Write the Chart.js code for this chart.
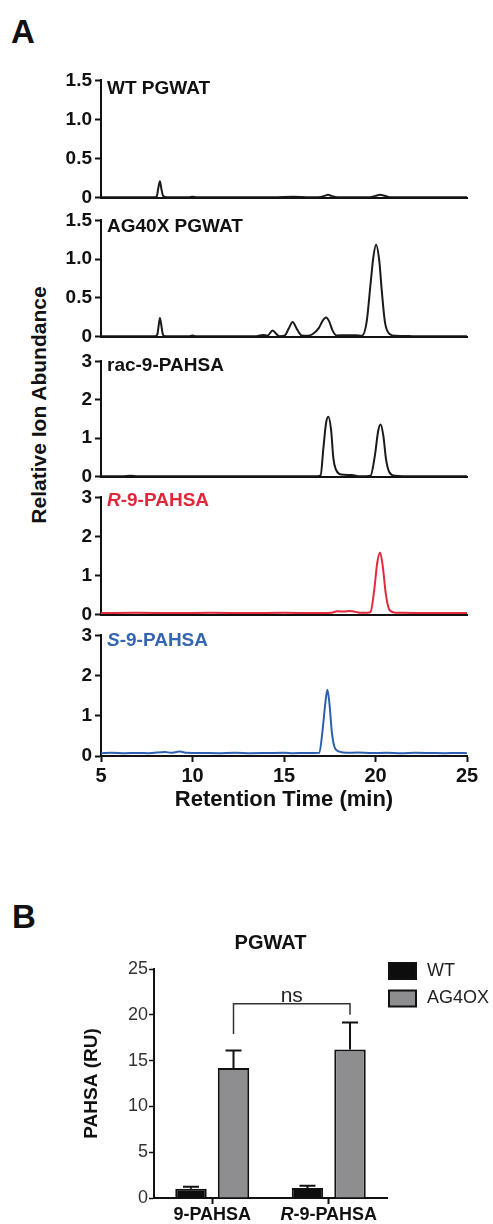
<!DOCTYPE html>
<html lang="en">
<head>
<meta charset="utf-8">
<title>PAHSA in PGWAT</title>
<script src="https://cdn.jsdelivr.net/npm/chart.js@4.4.1/dist/chart.umd.min.js"></script>
<style>
  html, body { margin: 0; padding: 0; background: #fff; }
  #figure { position: relative; width: 493px; height: 1224px; overflow: hidden; font-family: "Liberation Sans", Arial, sans-serif; color: #111; }
  #figure canvas { position: absolute; left: 0; }
  .panel-letter { position: absolute; font-size: 33px; font-weight: bold; line-height: 1; }
  #abundanceTitle { position: absolute; left: 38px; top: 405px; transform: translate(-50%, -50%) rotate(-90deg); white-space: nowrap; font-size: 21px; font-weight: bold; line-height: 1; }
</style>
</head>
<body>
<div id="figure">
  <div class="panel-letter" style="left:11px; top:15px;">A</div>
  <div class="panel-letter" style="left:12px; top:900px;">B</div>
  <div id="abundanceTitle">Relative Ion Abundance</div>
  <canvas id="wtPgwat"></canvas>
  <canvas id="ag4oxPgwat"></canvas>
  <canvas id="racPahsa"></canvas>
  <canvas id="rPahsa"></canvas>
  <canvas id="sPahsa"></canvas>
  <canvas id="pahsaBars"></canvas>
</div>
<script>
// --- panel A: chromatograms (retention time in min, relative ion abundance)
const retentionTicks = [5, 10, 15, 20, 25];
const pgwatTicks = [0, 0.5, 1.0, 1.5];
const pgwatTickLabels = ["0", "0.5", "1.0", "1.5"];
const standardTicks = [0, 1, 2, 3];
const standardTickLabels = ["0", "1", "2", "3"];

const wtTime = [5, 6.5, 7.9, 8.05, 8.13, 8.22, 8.3, 8.4, 8.6, 9.8, 10.0, 10.25, 12, 14.4, 15.5, 16.4, 17.0, 17.25, 17.4, 17.6, 17.9, 19.7, 20.0, 20.25, 20.5, 20.8, 23, 25];
const wtAbund = [0.004, 0.005, 0.004, 0.02, 0.12, 0.21, 0.11, 0.02, 0.004, 0.004, 0.012, 0.004, 0.004, 0.004, 0.01, 0.004, 0.008, 0.025, 0.035, 0.022, 0.006, 0.005, 0.022, 0.035, 0.024, 0.006, 0.004, 0.004];

const agTime = [5, 7, 7.95, 8.08, 8.15, 8.22, 8.3, 8.38, 8.5, 9.8, 10.0, 10.2, 12.5, 13.5, 13.85, 14.1, 14.38, 14.6, 14.75, 15.05, 15.25, 15.47, 15.7, 15.97, 16.3, 16.55, 16.9, 17.1, 17.3, 17.48, 17.65, 17.87, 18.3, 18.9, 19.25, 19.51, 19.73, 19.88, 20.03, 20.21, 20.34, 20.52, 20.79, 21.1, 22, 24, 25];
const agAbund = [0.004, 0.004, 0.004, 0.03, 0.14, 0.24, 0.14, 0.03, 0.005, 0.004, 0.013, 0.004, 0.004, 0.006, 0.022, 0.012, 0.08, 0.03, 0.005, 0.015, 0.1, 0.19, 0.1, 0.015, 0.012, 0.03, 0.11, 0.2, 0.245, 0.19, 0.08, 0.015, 0.018, 0.018, 0.01, 0.18, 0.68, 1.02, 1.185, 0.97, 0.6, 0.18, 0.03, 0.01, 0.006, 0.004, 0.004];

const racTime = [5, 6.2, 6.6, 7.0, 9, 12, 15, 16.8, 17.0, 17.15, 17.3, 17.42, 17.57, 17.7, 17.84, 18.02, 18.3, 18.7, 19.06, 19.5, 19.73, 19.97, 20.15, 20.28, 20.43, 20.57, 20.75, 21.07, 21.5, 23, 25];
const racAbund = [0.01, 0.01, 0.02, 0.01, 0.01, 0.012, 0.01, 0.01, 0.03, 0.73, 1.4, 1.56, 1.23, 0.47, 0.18, 0.07, 0.045, 0.04, 0.012, 0.01, 0.02, 0.56, 1.2, 1.36, 1.06, 0.47, 0.12, 0.02, 0.01, 0.01, 0.01];

const rTime = [5, 7, 9, 11, 13, 15, 16.5, 17.6, 17.9, 18.3, 18.6, 18.9, 19.2, 19.55, 19.73, 19.92, 20.1, 20.25, 20.39, 20.57, 20.75, 21.06, 21.5, 23, 25];
const rAbund = [0.04, 0.045, 0.04, 0.045, 0.04, 0.045, 0.04, 0.05, 0.085, 0.08, 0.09, 0.07, 0.045, 0.05, 0.07, 0.59, 1.34, 1.59, 1.26, 0.51, 0.13, 0.05, 0.045, 0.04, 0.04];

const sTime = [5, 5.6, 6.3, 7.0, 7.6, 8.5, 8.8, 9.3, 9.7, 10.5, 11.4, 12.3, 13.2, 14.1, 15.0, 15.5, 16.2, 16.93, 17.11, 17.26, 17.37, 17.48, 17.62, 17.79, 18.02, 18.45, 19.0, 19.8, 20.6, 21.4, 22.2, 23.0, 23.8, 24.5, 25];
const sAbund = [0.07, 0.08, 0.07, 0.075, 0.07, 0.1, 0.08, 0.11, 0.08, 0.075, 0.07, 0.08, 0.07, 0.075, 0.08, 0.07, 0.075, 0.08, 0.65, 1.32, 1.65, 1.32, 0.57, 0.19, 0.11, 0.08, 0.085, 0.075, 0.08, 0.07, 0.08, 0.075, 0.07, 0.075, 0.07];

// --- panel B: PAHSA levels (RU), mean and SEM
const groups = ["9-PAHSA", "R-9-PAHSA"];
const wtMean = [1.0, 1.1];
const wtSem = [0.22, 0.25];
const ag4oxMean = [14.2, 16.2];
const ag4oxSem = [1.9, 2.95];
const pahsaTicks = [0, 2.5, 5, 7.5, 10, 12.5, 15, 17.5, 20, 22.5, 25];

const FONT = '"Liberation Sans", Arial, sans-serif';
const INK = "#111";

// text with some italic pieces (R-/S- prefixes)
function drawParts(ctx, parts, x, y, size, align) {
  const fonts = parts.map((p) => (p.italic ? "italic " : "") + "bold " + size + "px " + FONT);
  let total = 0;
  parts.forEach((p, i) => { ctx.font = fonts[i]; total += ctx.measureText(p.text).width; });
  let cx = align === "center" ? x - total / 2 : x;
  ctx.textAlign = "left";
  parts.forEach((p, i) => {
    ctx.font = fonts[i];
    ctx.fillText(p.text, cx, y);
    cx += ctx.measureText(p.text).width;
  });
}

function traceLabel(label) {
  return {
    id: "traceLabel",
    afterDraw(chart) {
      const { ctx, chartArea } = chart;
      ctx.save();
      ctx.fillStyle = label.color;
      ctx.textBaseline = "middle";
      drawParts(ctx, label.parts, chartArea.left + 6, chartArea.top + label.dy, 19, "left");
      ctx.restore();
    },
  };
}

function chromatogram(id, top, bottom, time, abund, yTicks, yLabels, color, label, last) {
  const padTop = 14;
  const padBottom = last ? 0 : 12;
  const xHeight = last ? 58 : 0;
  const canvas = document.getElementById(id);
  canvas.width = 493;
  canvas.height = bottom - top + padTop + padBottom + xHeight;
  canvas.style.top = top - padTop + "px";

  return new Chart(canvas, {
    type: "line",
    data: {
      datasets: [
        {
          data: time.map((t, i) => ({ x: t, y: abund[i] })),
          borderColor: color,
          borderWidth: 2,
          pointRadius: 0,
          cubicInterpolationMode: "monotone",
        },
      ],
    },
    options: {
      responsive: false,
      animation: false,
      devicePixelRatio: 1,
      events: [],
      layout: { padding: { left: 0, right: 26, top: padTop, bottom: padBottom } },
      plugins: { legend: { display: false }, tooltip: { enabled: false } },
      scales: {
        x: {
          type: "linear",
          min: 5,
          max: 25,
          afterBuildTicks: (s) => { s.ticks = retentionTicks.map((v) => ({ value: v })); },
          afterFit: (s) => { s.height = xHeight; },
          grid: { display: last, drawOnChartArea: false, tickLength: 6, tickColor: INK, tickWidth: 2 },
          border: { color: INK, width: 2 },
          ticks: { display: last, autoSkip: false, maxRotation: 0, color: INK, padding: 2, font: { family: FONT, size: 20, weight: "bold" } },
          title: { display: last, text: "Retention Time (min)", color: INK, padding: { top: 0, bottom: 1 }, font: { family: FONT, size: 22, weight: "bold" } },
        },
        y: {
          min: 0,
          max: yTicks[yTicks.length - 1],
          afterBuildTicks: (s) => { s.ticks = yTicks.map((v) => ({ value: v })); },
          afterFit: (s) => { s.width = 101; },
          grid: { drawOnChartArea: false, tickLength: 6, tickColor: INK, tickWidth: 2 },
          border: { color: INK, width: 2 },
          ticks: { color: INK, padding: 3, callback: (v, i) => yLabels[i], font: { family: FONT, size: 19, weight: "bold" } },
        },
      },
    },
    plugins: [traceLabel(label)],
  });
}

chromatogram("wtPgwat", 80, 200, wtTime, wtAbund, pgwatTicks, pgwatTickLabels, "#1a1a1a",
  { parts: [{ text: "WT PGWAT" }], color: INK, dy: 8 }, false);
chromatogram("ag4oxPgwat", 220, 339, agTime, agAbund, pgwatTicks, pgwatTickLabels, "#1a1a1a",
  { parts: [{ text: "AG40X PGWAT" }], color: INK, dy: 6 }, false);
chromatogram("racPahsa", 361, 479, racTime, racAbund, standardTicks, standardTickLabels, "#1a1a1a",
  { parts: [{ text: "rac-9-PAHSA" }], color: INK, dy: 4 }, false);
chromatogram("rPahsa", 497, 617, rTime, rAbund, standardTicks, standardTickLabels, "#e2293d",
  { parts: [{ text: "R", italic: true }, { text: "-9-PAHSA" }], color: "#e0283a", dy: 3 }, false);
chromatogram("sPahsa", 635, 756, sTime, sAbund, standardTicks, standardTickLabels, "#2c60b0",
  { parts: [{ text: "S", italic: true }, { text: "-9-PAHSA" }], color: "#3566b2", dy: 5 }, true);

// --- panel B helpers
const errorBars = {
  id: "errorBars",
  afterDatasetsDraw(chart) {
    const { ctx } = chart;
    const y = chart.scales.y;
    ctx.save();
    ctx.strokeStyle = INK;
    ctx.lineWidth = 2;
    chart.data.datasets.forEach((ds, i) => {
      chart.getDatasetMeta(i).data.forEach((bar, j) => {
        const top = y.getPixelForValue(ds.data[j] + ds.sem[j]);
        ctx.beginPath();
        ctx.moveTo(bar.x, bar.y);
        ctx.lineTo(bar.x, top);
        ctx.moveTo(bar.x - 8, top);
        ctx.lineTo(bar.x + 8, top);
        ctx.stroke();
      });
    });
    ctx.restore();
  },
};

const nsBracket = {
  id: "nsBracket",
  afterDatasetsDraw(chart) {
    const { ctx } = chart;
    const y = chart.scales.y;
    const bars = chart.getDatasetMeta(1).data;
    const x1 = bars[0].x;
    const x2 = bars[1].x;
    const yTop = y.getPixelForValue(21.2);
    ctx.save();
    ctx.strokeStyle = "#333";
    ctx.lineWidth = 1.5;
    ctx.beginPath();
    ctx.moveTo(x1, y.getPixelForValue(17.9));
    ctx.lineTo(x1, yTop);
    ctx.lineTo(x2, yTop);
    ctx.lineTo(x2, y.getPixelForValue(20.0));
    ctx.stroke();
    ctx.fillStyle = "#222";
    ctx.font = "21px " + FONT;
    ctx.textAlign = "center";
    ctx.textBaseline = "alphabetic";
    ctx.fillText("ns", (x1 + x2) / 2, yTop - 2);
    ctx.restore();
  },
};

const sideLegend = {
  id: "sideLegend",
  afterDraw(chart) {
    const { ctx, chartArea } = chart;
    ctx.save();
    chart.data.datasets.forEach((ds, i) => {
      const cy = chartArea.top + 2 + i * 27.5;
      const x = chartArea.right + 2;
      ctx.fillStyle = ds.backgroundColor;
      ctx.fillRect(x, cy - 8, 27, 16);
      ctx.lineWidth = 2;
      ctx.strokeStyle = INK;
      ctx.strokeRect(x, cy - 8, 27, 16);
      ctx.fillStyle = "#222";
      ctx.font = "18px " + FONT;
      ctx.textBaseline = "middle";
      ctx.fillText(ds.label, x + 38, cy);
    });
    ctx.restore();
  },
};

const groupLabels = {
  id: "groupLabels",
  afterDraw(chart) {
    const { ctx } = chart;
    const x = chart.scales.x;
    ctx.save();
    ctx.fillStyle = INK;
    ctx.textBaseline = "middle";
    groups.forEach((g, i) => {
      const parts = g.startsWith("R-") ? [{ text: "R", italic: true }, { text: g.slice(1) }] : [{ text: g }];
      drawParts(ctx, parts, x.getPixelForTick(i), x.top + 17, 18, "center");
    });
    ctx.restore();
  },
};

const barCanvas = document.getElementById("pahsaBars");
barCanvas.width = 493;
barCanvas.height = 299;
barCanvas.style.top = "925px";

new Chart(barCanvas, {
  type: "bar",
  data: {
    labels: groups,
    datasets: [
      { label: "WT", data: wtMean, sem: wtSem, backgroundColor: "#0d0d0d", borderColor: INK, borderWidth: 2 },
      { label: "AG4OX", data: ag4oxMean, sem: ag4oxSem, backgroundColor: "#8e8e91", borderColor: INK, borderWidth: 2 },
    ],
  },
  options: {
    responsive: false,
    animation: false,
    devicePixelRatio: 1,
    events: [],
    layout: { padding: { left: 80, right: 106, top: 0, bottom: 0 } },
    datasets: { bar: { categoryPercentage: 0.73, barPercentage: 0.74 } },
    plugins: {
      legend: { display: false },
      tooltip: { enabled: false },
      title: { display: true, text: "PGWAT", fullSize: false, color: INK, padding: { top: 6, bottom: 14 }, font: { family: FONT, size: 20, weight: "bold" } },
    },
    scales: {
      x: {
        afterFit: (s) => { s.height = 26; },
        grid: { offset: false, drawOnChartArea: false, tickLength: 6, tickColor: INK, tickWidth: 2 },
        border: { color: INK, width: 2 },
        ticks: { display: false },
      },
      y: {
        min: 0,
        max: 25,
        afterBuildTicks: (s) => { s.ticks = pahsaTicks.map((v) => ({ value: v })); },
        afterFit: (s) => { s.width = 74; },
        grid: { drawOnChartArea: false, tickLength: 5, tickColor: INK, tickWidth: 1.5 },
        border: { color: INK, width: 2 },
        ticks: { color: "#333", padding: 1, callback: (v) => (v % 5 === 0 ? String(v) : ""), font: { family: FONT, size: 18 } },
        title: { display: true, text: "PAHSA (RU)", color: INK, padding: { top: 0, bottom: 0 }, font: { family: FONT, size: 19, weight: "bold" } },
      },
    },
  },
  plugins: [errorBars, nsBracket, sideLegend, groupLabels],
});
</script>
</body>
</html>
